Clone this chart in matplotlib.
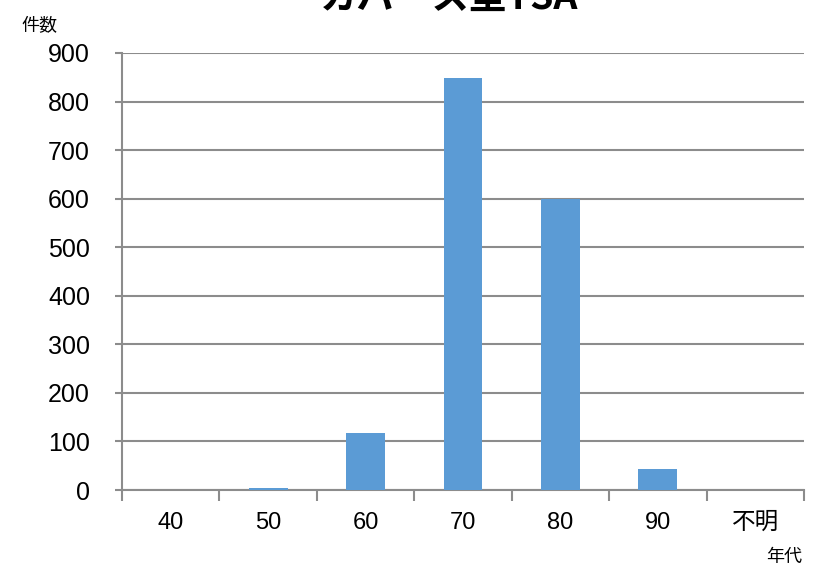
import numpy as np
import matplotlib.pyplot as plt

categories = ["40", "50", "60", "70", "80", "90", "不明"]
counts = [0, 5, 117, 848, 600, 43, 0]
yticks = [0, 100, 200, 300, 400, 500, 600, 700, 800, 900]

plt.rcParams['font.family'] = ['Liberation Sans', 'Noto Sans CJK JP', 'DejaVu Sans']

fig = plt.figure(figsize=(8.31, 5.69), dpi=100)
ax = fig.add_axes([0.1468, 0.1388, 0.8207, 0.7681])

x = np.arange(len(categories))
ax.bar(x, counts, width=0.4, color="#5b9bd5", zorder=3)

ax.set_xlim(-0.5, len(categories) - 0.5)
ax.set_ylim(0, 900)
ax.set_yticks(yticks)
ax.set_yticklabels([str(v) for v in yticks], fontsize=18)
ax.yaxis.grid(True, color="#8c8c8c", linewidth=1.5, zorder=0)

# category labels between tick marks at boundaries
ax.set_xticks(np.arange(len(categories) + 1) - 0.5)
ax.set_xticklabels([])
ax.set_xticks(x, minor=True)
ax.set_xticklabels(categories, minor=True, fontsize=17,
                   family=['Liberation Sans', 'Noto Sans CJK JP'])
ax.tick_params(axis='x', which='major', length=8, width=1.5, color="#8c8c8c")
ax.tick_params(axis='x', which='minor', length=0, pad=16)
ax.tick_params(axis='y', length=5, width=1.5, color="#8c8c8c", pad=18)

for s in ["top", "right"]:
    ax.spines[s].set_visible(False)
for s in ["left", "bottom"]:
    ax.spines[s].set_color("#8c8c8c")
    ax.spines[s].set_linewidth(1.5)

fig.text(0.026, 0.946, "件数", fontsize=13, family=['Noto Sans CJK JP'])
fig.text(0.965, 0.012, "年代", fontsize=13, ha="right", family=['Noto Sans CJK JP'])
fig.text(0.54, 0.985, "カバース型TSA", fontsize=27, fontweight="bold", ha="center",
         va="baseline", family=['Noto Sans CJK JP'])

fig.savefig("out.png", dpi=100)
